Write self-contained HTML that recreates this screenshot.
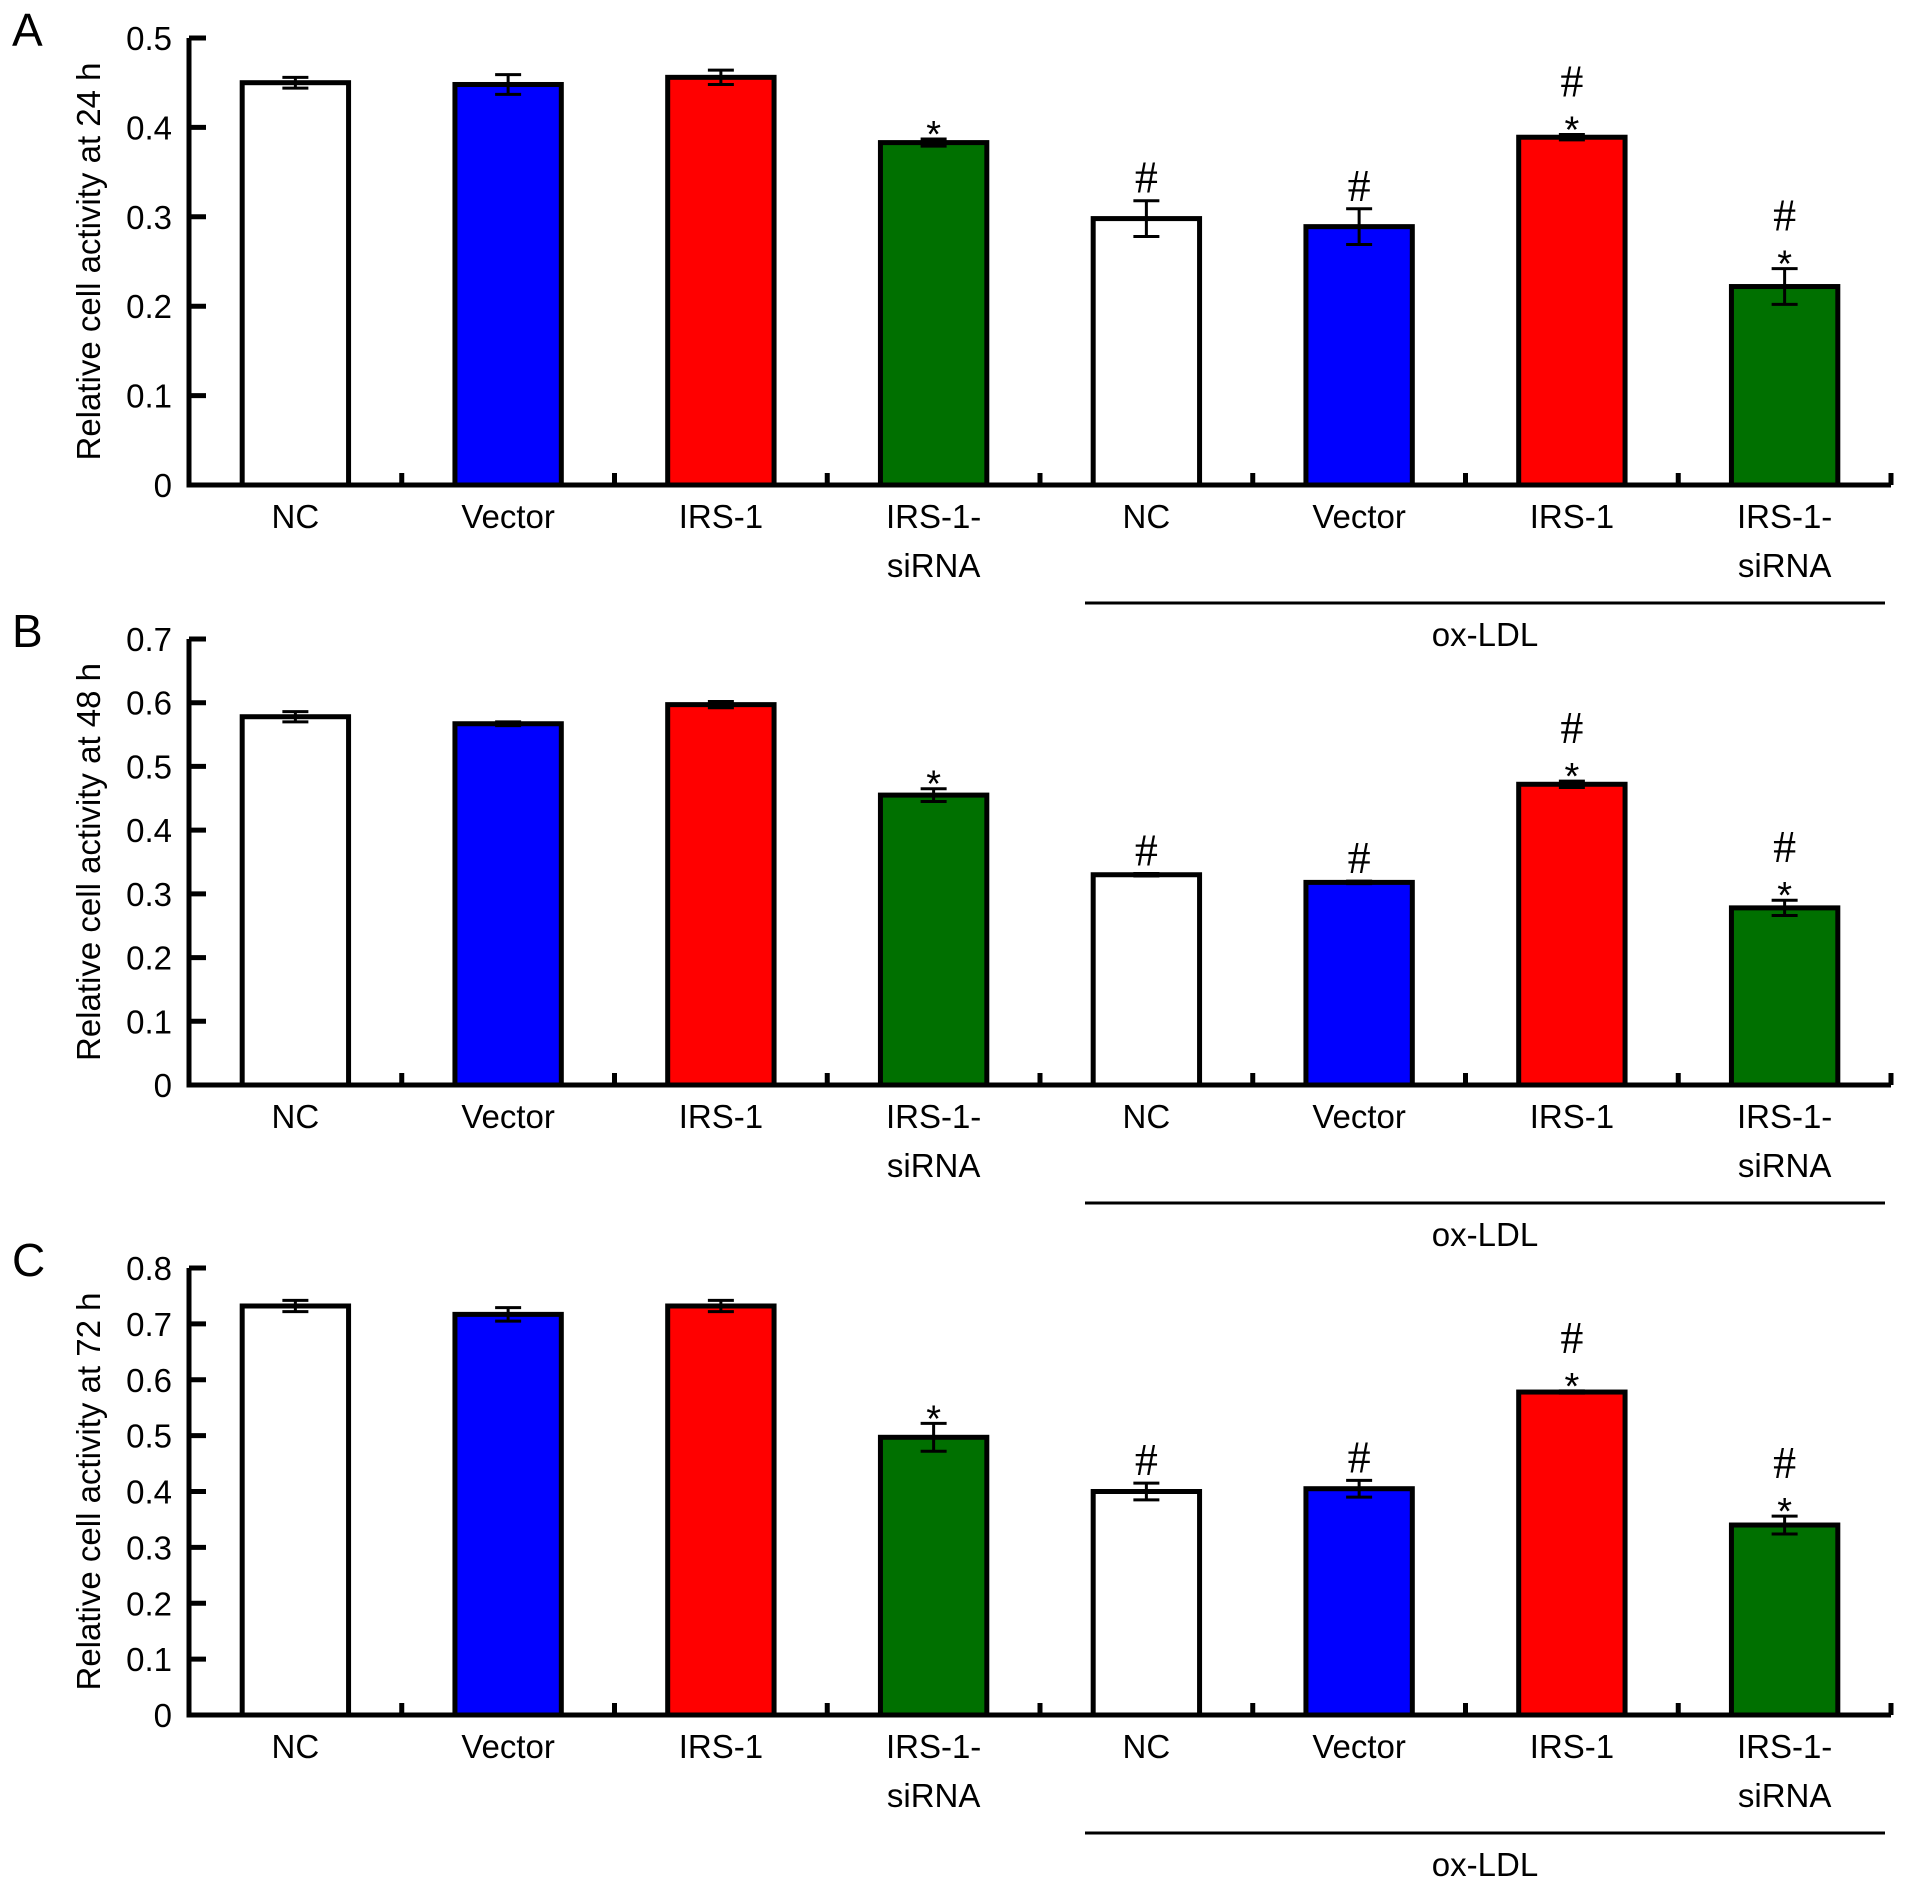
<!DOCTYPE html>
<html><head><meta charset="utf-8"><style>
html,body{margin:0;padding:0;background:#fff;}
svg{display:block;font-family:"Liberation Sans",Arial,sans-serif;}
</style></head><body>
<svg id="fig" width="1913" height="1887" viewBox="0 0 1913 1887" xmlns="http://www.w3.org/2000/svg"></svg>
<script>
const categories = ["NC","Vector","IRS-1","IRS-1-siRNA","NC","Vector","IRS-1","IRS-1-siRNA"];
const colors = ["#ffffff","#0000ff","#ff0000","#007000","#ffffff","#0000ff","#ff0000","#007000"];
const values24 = [0.450,0.448,0.456,0.383,0.298,0.289,0.389,0.222];
const errors24 = [0.006,0.011,0.008,0.004,0.020,0.020,0.003,0.020];
const values48 = [0.578,0.567,0.597,0.455,0.330,0.318,0.472,0.278];
const errors48 = [0.008,0.003,0.005,0.010,0.002,0.002,0.005,0.012];
const values72 = [0.732,0.717,0.732,0.497,0.400,0.405,0.578,0.340];
const errors72 = [0.010,0.012,0.010,0.025,0.015,0.015,0.002,0.016];
const stars = [false,false,false,true,false,false,true,true];
const hashes = [false,false,false,false,true,true,true,true];
const ticks24 = [0,0.1,0.2,0.3,0.4,0.5];
const ticks48 = [0,0.1,0.2,0.3,0.4,0.5,0.6,0.7];
const ticks72 = [0,0.1,0.2,0.3,0.4,0.5,0.6,0.7,0.8];
const tickLabels24 = ["0","0.1","0.2","0.3","0.4","0.5"];
const tickLabels48 = ["0","0.1","0.2","0.3","0.4","0.5","0.6","0.7"];
const tickLabels72 = ["0","0.1","0.2","0.3","0.4","0.5","0.6","0.7","0.8"];

const NS="http://www.w3.org/2000/svg";
const svg=document.getElementById('fig');
function mk(tag,attrs,parent){const e=document.createElementNS(NS,tag);for(const k in attrs)e.setAttribute(k,attrs[k]);(parent||svg).appendChild(e);return e;}

const X0=189, X1=1891, catW=(X1-X0)/8;
function xc(i){return X0+catW*(i+0.5);}

function panel(letter,title,values,errors,ticks,tickLabels,base,top,ymax,key){
  const g=mk('g',{});
  
  
  const y=v=>base-(base-top)*v/ymax;
  const L=mk('text',{x:12,y:top+8,'font-size':46,fill:'#000'},g);L.textContent=letter;
  
  
  const midY=(base+top)/2;
  const t=mk('text',{x:0,y:0,'font-size':33,'text-anchor':'middle',fill:'#000',transform:`translate(100,${midY}) rotate(-90)`},g);t.textContent=title;
  
  
  for(let i=0;i<values.length;i++){
    const cx=xc(i), bw=catW*0.5, yt=y(values[i]);
    const r=mk('rect',{x:cx-bw/2,y:yt,width:bw,height:base-yt,fill:colors[i],stroke:'#000','stroke-width':5},g);
    
    
    const et=y(values[i]+errors[i]), eb=y(values[i]-errors[i]);
    const eg=mk('g',{stroke:'#000','stroke-width':3},g);
    
    
    mk('line',{x1:cx,x2:cx,y1:et,y2:eb},eg);
    mk('line',{x1:cx-13,x2:cx+13,y1:et,y2:et},eg);
    mk('line',{x1:cx-13,x2:cx+13,y1:eb,y2:eb},eg);
    let ay=Math.min(et,yt)-8;
    if(stars[i]){const s=mk('text',{x:cx,y:ay+16,'font-size':38,'text-anchor':'middle',fill:'#000'},g);s.textContent='*';
      
      
      ay-=30;}
    if(hashes[i]){const h=mk('text',{x:cx,y:ay,'font-size':46,'text-anchor':'middle',fill:'#000','font-family':'Liberation Serif, serif'},g);h.textContent='#';
      
      }
    const lab=categories[i];
    if(lab==='IRS-1-siRNA'){
      const a=mk('text',{x:cx,y:base+43,'font-size':33,'text-anchor':'middle',fill:'#000'},g);a.textContent='IRS-1-';
      
      
      const b=mk('text',{x:cx,y:base+92,'font-size':33,'text-anchor':'middle',fill:'#000'},g);b.textContent='siRNA';
      
      
    } else {
      const a=mk('text',{x:cx,y:base+43,'font-size':33,'text-anchor':'middle',fill:'#000'},g);a.textContent=lab;
      
      
    }
  }
  const ax=mk('g',{stroke:'#000','stroke-width':5,fill:'none'},g);
  
  
  mk('path',{d:`M${X0},${top} V${base} H${X1}`},ax);
  for(let k=1;k<=8;k++){const xx=X0+catW*k;mk('line',{x1:xx,x2:xx,y1:base,y2:base-12},ax);}
  for(let k=0;k<ticks.length;k++){
    const yy=y(ticks[k]);
    mk('line',{x1:X0,x2:X0+17,y1:yy,y2:yy},ax);
    const tl=mk('text',{x:172,y:yy+12,'font-size':33,'text-anchor':'end',fill:'#000'},g);tl.textContent=tickLabels[k];
    
    
  }
  const ln=mk('line',{x1:1085,x2:1885,y1:base+118,y2:base+118,stroke:'#000','stroke-width':3},g);
  
  
  const ox=mk('text',{x:1485,y:base+161,'font-size':33,'text-anchor':'middle',fill:'#000'},g);ox.textContent='ox-LDL';
  
  
}
panel('A','Relative cell activity at 24 h',values24,errors24,ticks24,tickLabels24,485,38,0.5,'24h');
panel('B','Relative cell activity at 48 h',values48,errors48,ticks48,tickLabels48,1085,639,0.7,'48h');
panel('C','Relative cell activity at 72 h',values72,errors72,ticks72,tickLabels72,1715,1268,0.8,'72h');
</script>
</body></html>
